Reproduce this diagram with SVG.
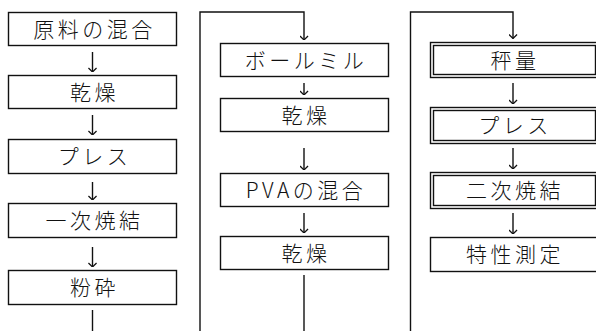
<svg xmlns="http://www.w3.org/2000/svg" width="596" height="331" viewBox="0 0 596 331">
<defs>
<style>
.box{fill:#fff;stroke:#111;stroke-width:1.4}
.t{font-family:"Noto Sans CJK JP","Noto Sans",sans-serif;font-size:21px;font-weight:300;letter-spacing:3.5px;fill:#111;text-anchor:middle}
.ln{fill:none;stroke:#111;stroke-width:1.4}
</style>
<marker id="ah" viewBox="0 0 10 10" refX="9.5" refY="5" markerWidth="9" markerHeight="9" markerUnits="userSpaceOnUse" orient="auto">
<path d="M5,0.5 L9.5,5 L5,9.5" fill="none" stroke="#111" stroke-width="1.4"/>
</marker>
</defs>
<g id="connectors" class="ln">
<line x1="92.5" y1="52" x2="92.5" y2="72" marker-end="url(#ah)"/>
<line x1="92.5" y1="115" x2="92.5" y2="135" marker-end="url(#ah)"/>
<line x1="92.5" y1="182" x2="92.5" y2="200" marker-end="url(#ah)"/>
<line x1="92.5" y1="247" x2="92.5" y2="267" marker-end="url(#ah)"/>
<line x1="92.5" y1="310" x2="92.5" y2="331"/>
<path d="M200,331 V12 H304 V40" marker-end="url(#ah)"/>
<line x1="304" y1="83" x2="304" y2="95" marker-end="url(#ah)"/>
<line x1="304" y1="148" x2="304" y2="170" marker-end="url(#ah)"/>
<line x1="304" y1="213" x2="304" y2="233" marker-end="url(#ah)"/>
<line x1="304" y1="275" x2="304" y2="331"/>
<path d="M410.5,331 V12 H513 V38.5" marker-end="url(#ah)"/>
<line x1="513" y1="83" x2="513" y2="104" marker-end="url(#ah)"/>
<line x1="513" y1="148" x2="513" y2="169" marker-end="url(#ah)"/>
<line x1="513" y1="213" x2="513" y2="234" marker-end="url(#ah)"/>
</g>
<g id="n1"><rect class="box" x="8.5" y="12.5" width="168" height="33"/><text class="t" x="94.5" y="36.5">原料の混合</text></g>
<g id="n2"><rect class="box" x="8.5" y="75.5" width="168" height="33"/><text class="t" x="94.5" y="99.5">乾燥</text></g>
<g id="n3"><rect class="box" x="8.5" y="139.5" width="168" height="34"/><text class="t" x="94.5" y="163.5">プレス</text></g>
<g id="n4"><rect class="box" x="8.5" y="203.5" width="168" height="34"/><text class="t" x="94.5" y="228">一次焼結</text></g>
<g id="n5"><rect class="box" x="8.5" y="270.5" width="168" height="34"/><text class="t" x="94.5" y="294.5">粉砕</text></g>
<g id="n6"><rect class="box" x="220.5" y="43.5" width="168" height="33"/><text class="t" x="306" y="67.5">ボールミル</text></g>
<g id="n7"><rect class="box" x="220.5" y="98.5" width="168" height="33"/><text class="t" x="306" y="122.5">乾燥</text></g>
<g id="n8"><rect class="box" x="220.5" y="173.5" width="168" height="33"/><text class="t" x="306" y="197.5">PVAの混合</text></g>
<g id="n9"><rect class="box" x="220.5" y="236.5" width="168" height="33"/><text class="t" x="306" y="260.5">乾燥</text></g>
<g id="n10"><rect class="box" x="430.5" y="42.5" width="168" height="35"/><rect class="box" x="433.5" y="45.5" width="162" height="29"/><text class="t" x="515" y="67.5">秤量</text></g>
<g id="n11"><rect class="box" x="430.5" y="107.5" width="168" height="36"/><rect class="box" x="433.5" y="110.5" width="162" height="30"/><text class="t" x="515" y="133">プレス</text></g>
<g id="n12"><rect class="box" x="430.5" y="172.5" width="168" height="36"/><rect class="box" x="433.5" y="175.5" width="162" height="30"/><text class="t" x="515" y="198">二次焼結</text></g>
<g id="n13"><rect class="box" x="430.5" y="237.5" width="168" height="34"/><text class="t" x="515" y="262">特性測定</text></g>
</svg>
